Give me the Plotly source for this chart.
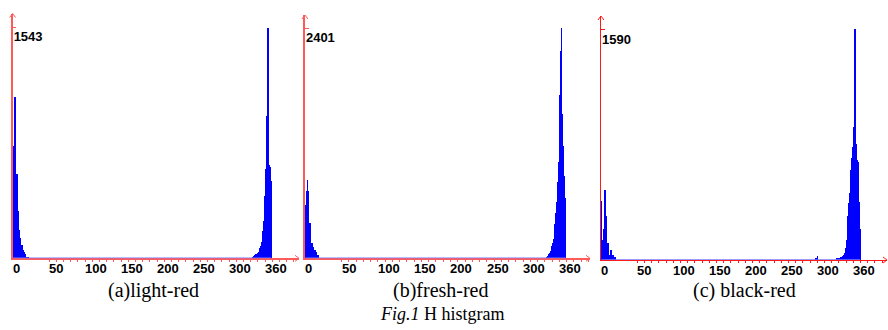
import plotly.graph_objects as go

# ---------------- data (H value -> pixel count) ----------------
H_A = [0, 1, 2, 3, 4, 5, 6, 7, 8, 9, 10, 11, 12, 13, 14, 15, 16, 17, 18, 19, 20,
       333, 334, 335, 336, 337, 338, 339, 340, 341, 342, 343, 344, 345, 346, 347,
       348, 349, 350, 351, 352, 353, 354, 355, 356, 357, 358]
N_A = [750, 434, 1080, 620, 567, 567, 321, 194, 194, 140, 140, 94, 94, 60, 60, 45, 33, 33, 13, 13, 10,
       12, 20, 24, 28, 30, 34, 38, 40, 46, 53, 70, 87, 110, 134, 187,
       254, 420, 568, 600, 955, 980, 1543, 628, 615, 610, 521]

H_B = [0, 1, 2, 3, 4, 5, 6, 7, 8, 9, 10, 11, 12, 13, 14, 15, 16, 17,
       333, 334, 335, 336, 337, 338, 339, 340, 341, 342, 343, 344, 345, 346, 347,
       348, 349, 350, 351, 352, 353, 354, 355, 356, 357, 358]
N_B = [555, 295, 700, 815, 700, 372, 372, 219, 157, 157, 121, 121, 87, 87, 69, 69, 35, 35,
       15, 24, 35, 42, 52, 75, 104, 130, 157, 200, 261, 360, 470, 530, 592,
       800, 1000, 1340, 1700, 2158, 2401, 1500, 1166, 853, 700, 626]

H_C = [0, 1, 2, 3, 4, 5, 6, 7, 8, 9, 10, 11, 12, 13, 14, 15, 16, 17, 18, 19,
       298, 300,
       327, 328, 329, 330, 331, 332, 333, 334, 335, 336, 337, 338, 339, 340, 341,
       342, 343, 344, 345, 346, 347, 348, 349, 350, 351, 352, 353, 354, 355, 356,
       357, 358, 359]
N_C = [409, 138, 138, 211, 211, 482, 300, 225, 115, 115, 92, 34, 34, 69, 69, 34, 34, 18, 18, 18,
       12, 27,
       7, 10, 8, 10, 12, 16, 18, 20, 24, 28, 36, 46, 60, 80, 140,
       207, 300, 391, 460, 540, 620, 700, 780, 850, 918, 1590, 1350, 800, 689, 678,
       528, 402, 211]

MAX_A, MAX_B, MAX_C = 1543, 2401, 1590

X_TICKS = [0, 50, 100, 150, 200, 250, 300, 350]
X_LABELS = ["0", "50", "100", "150", "200", "250", "300", "360"]

CAPTIONS = ["(a)light-red", "(b)fresh-red", "(c) black-red"]
TITLE = "<i>Fig.1</i> H histgram"

# ---------------- layout geometry (pixels) ----------------
W, HT = 888, 330
panels = [
    dict(h=H_A, n=N_A, ymax=MAX_A, O=13.0, xend=299.0, base=258.3, top=13.5, tick=27.0,
         s=0.72, axis="#ff5a5a", lw=1.6, cap_x=153),
    dict(h=H_B, n=N_B, ymax=MAX_B, O=305.3, xend=590.0, base=258.3, top=15.0, tick=28.0,
         s=0.726, axis="#ff5a5a", lw=1.6, cap_x=441),
    dict(h=H_C, n=N_C, ymax=MAX_C, O=601.3, xend=887.0, base=260.0, top=16.0, tick=29.3,
         s=0.72, axis="#ff1a1a", lw=1.2, cap_x=744),
]
X0 = -0.5  # left end of the hue axis range

fig = go.Figure()
layout = {}
shapes = []
annotations = []
tickfont = dict(family="Liberation Sans", size=13, color="black", weight="bold")

for i, p in enumerate(panels, 1):
    sfx = "" if i == 1 else str(i)
    xa, ya = "x" + sfx, "y" + sfx
    fig.add_trace(go.Bar(
        x=p["h"], y=p["n"], width=1.0,
        marker=dict(color="#0000ff", line=dict(width=0)),
        xaxis=xa, yaxis=ya, showlegend=False, hoverinfo="skip"))

    left_px = p["O"] + X0 * p["s"]
    xr = (p["xend"] - p["O"]) / p["s"]
    yr = p["ymax"] * (p["base"] - p["top"]) / (p["base"] - p["tick"])

    layout["xaxis" + sfx] = dict(
        domain=[left_px / W, p["xend"] / W], range=[X0, xr], anchor=ya,
        showline=True, linecolor=p["axis"], linewidth=p["lw"],
        showgrid=False, zeroline=False, automargin=False, fixedrange=True,
        tickmode="array", tickvals=X_TICKS, showticklabels=False,
        ticks="outside", ticklen=2, tickwidth=1, tickcolor=p["axis"],
        minor=dict(tickmode="array", tickvals=list(range(0, 400, 10)),
                   ticks="outside", ticklen=2, tickwidth=1, tickcolor=p["axis"]),
    )
    layout["yaxis" + sfx] = dict(
        domain=[1 - p["base"] / HT, 1 - p["top"] / HT], range=[0, yr], anchor=xa,
        showline=True, linecolor=p["axis"], linewidth=p["lw"],
        showgrid=False, zeroline=False, automargin=False, fixedrange=True,
        tickmode="array", tickvals=[p["ymax"]], ticktext=[str(p["ymax"])],
        ticks="inside", ticklen=4, tickwidth=1.2, tickcolor=p["axis"],
        ticklabelposition="inside bottom", tickfont=tickfont,
    )

    # hue tick labels, left-aligned at their tick
    for tv, tl in zip(X_TICKS, X_LABELS):
        annotations.append(dict(text=tl, xref=xa, yref=ya + " domain", x=tv, y=0,
                                xanchor="left", yanchor="top", xshift=-1, yshift=-2,
                                borderpad=0, showarrow=False, font=tickfont))

    # histogram floor (small counts across all hues)
    shapes.append(dict(type="line", xref=xa, yref=ya, x0=0, x1=max(p["h"]) + 0.5,
                       y0=0, y1=0, line=dict(color="#7878ff", width=1.5), layer="above"))
    # arrow heads
    shapes.append(dict(type="path", xref=xa + " domain", yref=ya + " domain",
                       xsizemode="pixel", ysizemode="pixel", xanchor=0, yanchor=1,
                       path="M-3,-4 L0,0 L3,-4", line=dict(color=p["axis"], width=1),
                       layer="above"))
    shapes.append(dict(type="path", xref=xa + " domain", yref=ya + " domain",
                       xsizemode="pixel", ysizemode="pixel", xanchor=1, yanchor=0,
                       path="M-4,3 L0,0 L-4,-3", line=dict(color=p["axis"], width=1),
                       layer="above"))

    annotations.append(dict(text=CAPTIONS[i - 1], xref="paper", yref="paper",
                            x=p["cap_x"] / W, y=1 - 290 / HT, showarrow=False,
                            xanchor="center", yanchor="middle", borderpad=0,
                            font=dict(family="Liberation Serif", size=20, color="black")))

annotations.append(dict(text=TITLE, xref="paper", yref="paper", x=442 / W, y=1 - 314 / HT,
                        showarrow=False, xanchor="center", yanchor="middle", borderpad=0,
                        font=dict(family="Liberation Serif", size=18, color="black")))

fig.update_layout(
    width=W, height=HT, margin=dict(l=0, r=0, t=0, b=0),
    paper_bgcolor="white", plot_bgcolor="white",
    bargap=0, showlegend=False,
    shapes=shapes, annotations=annotations, **layout)

fig.write_html("out.html", config={"displayModeBar": False},
               post_script="document.body.style.margin='0';document.body.style.overflow='hidden';")
